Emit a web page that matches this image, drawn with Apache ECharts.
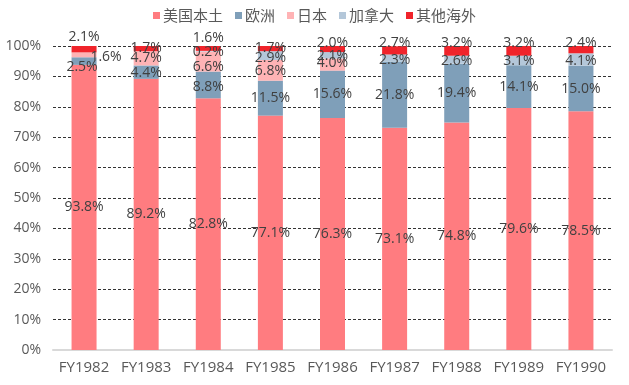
<!DOCTYPE html>
<html><head><meta charset="utf-8">
<script src="https://cdn.jsdelivr.net/npm/echarts@6/dist/echarts.min.js"></script>
<style>html,body{margin:0;padding:0;background:#fff}#c{width:629px;height:385px}</style>
</head><body><div id="c"></div>
<script>
const categories = ['FY1982','FY1983','FY1984','FY1985','FY1986','FY1987','FY1988','FY1989','FY1990'];
const seriesNames = ['美国本土','欧洲','日本','加拿大','其他海外'];
const usMainland = [93.8, 89.2, 82.8, 77.1, 76.3, 73.1, 74.8, 79.6, 78.5];
const europe     = [2.5, 4.4, 8.8, 11.5, 15.6, 21.8, 19.4, 14.1, 15.0];
const japan      = [1.6, 4.7, 6.6, 6.8, 4.0, 0, 0, 0, 0];
const canada     = [0, 0, 0.2, 2.9, 2.1, 2.3, 2.6, 3.1, 4.1];
const otherOverseas = [2.1, 1.7, 1.6, 1.7, 2.0, 2.7, 3.2, 3.2, 2.4];
const yTicks = [0,10,20,30,40,50,60,70,80,90,100];

const colors = ['#FF7C80','#7F9FB9','#FFB3B5','#B4C7D9','#F0242B'];
const values = [usMainland, europe, japan, canada, otherOverseas];
// label offset tweaks (style only) per series per category
const offsets = [
  [[0,0],[0,0],[0,0],[0,0],[0,0],[0,0],[0,0],[0,0],[0,0]],
  [[-2,6],[0,1],[0,2],[0,0],[0,0],[0,0],[0,0],[0,0],[0,0]],
  [[22,2],[0,0],[0,6],[0,1],[0,-2],[0,0],[0,0],[0,0],[0,0]],
  [[0,0],[0,0],[0,1],[0,2],[0,1],[0,2],[0,1],[0,1],[0,1]],
  [[0,-12],[0,-1],[0,-10],[0,-1],[0,-6],[0,-7],[0,-8],[0,-8],[0,-7]]
];
const font = '"Open Sans", "Noto Sans CJK SC", sans-serif';

const series = seriesNames.map((name, si) => ({
  name, type: 'bar', stack: 'total', barWidth: 25,
  itemStyle: { color: colors[si] },
  data: values[si].map((v, ci) => ({
    value: v,
    label: { show: v > 0, position: 'inside', offset: offsets[si][ci] }
  })),
  label: {
    color: '#404040', fontSize: 14, fontFamily: font,
    formatter: p => p.value.toFixed(1) + '%'
  }
}));

const chart = echarts.init(document.getElementById('c'));
chart.setOption({
  animation: false,
  textStyle: { fontFamily: font },
  legend: {
    top: 3, left: 148,
    itemWidth: 7, itemHeight: 7, itemGap: 12,
    icon: 'rect',
    textStyle: { color: '#595959', fontSize: 15, fontFamily: '"Noto Sans CJK SC", sans-serif', padding: [0,0,0,-2] },
    data: seriesNames
  },
  grid: { left: 53, right: 17, top: 46, bottom: 35 },
  xAxis: {
    type: 'category', data: categories,
    axisLine: { lineStyle: { color: '#D9D9D9', width: 2 } },
    axisTick: { show: false },
    axisLabel: { color: '#595959', fontSize: 15, margin: 10, fontFamily: font, interval: 0, hideOverlap: false }
  },
  yAxis: {
    type: 'value', min: 0, max: 100, interval: 10,
    axisLine: { show: false }, axisTick: { show: false },
    axisLabel: { color: '#595959', fontSize: 14, margin: 12, fontFamily: font,
      formatter: v => yTicks.includes(v) ? v + '%' : '' },
    splitLine: { lineStyle: { color: '#333', type: [3, 2], width: 1 } }
  },
  series
});
</script></body></html>
